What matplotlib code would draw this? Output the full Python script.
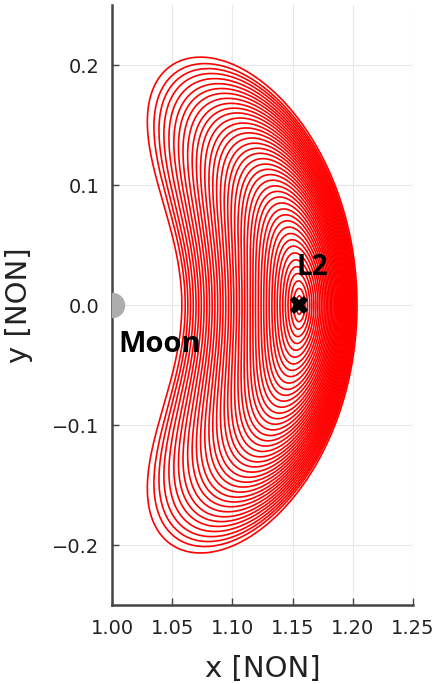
import math
import numpy as np
import matplotlib
matplotlib.use("Agg")
import matplotlib.pyplot as plt

# Earth-Moon CR3BP mass ratio
mu = 0.01215

# left x-crossing of each L2 Lyapunov orbit (inner -> outer)
x_left = [1.1530, 1.1508, 1.1485, 1.1462, 1.1440, 1.1418, 1.1395, 1.1372,
          1.1350, 1.1328, 1.1305, 1.1282, 1.1260, 1.1238, 1.1215, 1.1192,
          1.1170, 1.1148, 1.1125, 1.1102, 1.1080, 1.1058, 1.1035, 1.1012,
          1.0990, 1.0968, 1.0945, 1.0922, 1.0900, 1.0878, 1.0855, 1.0832,
          1.0810, 1.0788, 1.0765, 1.0742, 1.0720, 1.0698, 1.0675, 1.0652,
          1.0630, 1.0608, 1.0580]

moon_xy = (1.0, 0.0)
xticks = [1.00, 1.05, 1.10, 1.15, 1.20, 1.25]
yticks = [-0.2, -0.1, 0.0, 0.1, 0.2]


def acc(x, y, vx, vy):
    r1 = ((x + mu) ** 2 + y * y) ** 1.5
    r2 = ((x - 1 + mu) ** 2 + y * y) ** 1.5
    ax = 2 * vy + x - (1 - mu) * (x + mu) / r1 - mu * (x - 1 + mu) / r2
    ay = -2 * vx + y - (1 - mu) * y / r1 - mu * y / r2
    return vx, vy, ax, ay


def rk4(s, h):
    k1 = acc(*s)
    k2 = acc(*[s[i] + 0.5 * h * k1[i] for i in range(4)])
    k3 = acc(*[s[i] + 0.5 * h * k2[i] for i in range(4)])
    k4 = acc(*[s[i] + h * k3[i] for i in range(4)])
    return tuple(s[i] + h / 6 * (k1[i] + 2 * k2[i] + 2 * k3[i] + k4[i]) for i in range(4))


def half_orbit(x0, vy0, h=0.002, keep=False):
    s = (x0, 0.0, 0.0, vy0)
    pts = [s]
    n = 0
    while True:
        s1 = rk4(s, h)
        n += 1
        if n > 5 and s1[1] < 0:
            # land on y = 0
            for _ in range(3):
                dt = -s[1] / s[3]
                s = rk4(s, dt) if abs(dt) > 1e-14 else s
            pts[-1] = s
            break
        s = s1
        pts.append(s)
        if n > 20000:
            break
    if keep:
        return np.array(pts)
    return s[2]


def solve(x0, vy):
    v0, v1 = vy, vy * 1.001
    f0, f1 = half_orbit(x0, v0), half_orbit(x0, v1)
    for _ in range(30):
        if abs(f1) < 1e-11 or f1 == f0:
            break
        v0, v1 = v1, v1 - f1 * (v1 - v0) / (f1 - f0)
        f0, f1 = f1, half_orbit(x0, v1)
    return v1


# L2 location
xL2 = 1.15
for _ in range(50):
    g = xL2 - (1 - mu) / (xL2 + mu) ** 2 - mu / (xL2 - 1 + mu) ** 2
    dg = 1 + 2 * (1 - mu) / (xL2 + mu) ** 3 + 2 * mu / (xL2 - 1 + mu) ** 3
    xL2 -= g / dg

# linear guess for the first orbit
c2 = (1 - mu) / abs(xL2 + mu) ** 3 + mu / abs(xL2 - 1 + mu) ** 3
w = math.sqrt((2 - c2 + math.sqrt(9 * c2 ** 2 - 8 * c2)) / 2)
kap = (w ** 2 + 1 + 2 * c2) / (2 * w)

orbits = []
vys = []
for i, x0 in enumerate(x_left):
    if i == 0:
        guess = kap * w * (xL2 - x0)
    elif i == 1:
        guess = vys[0] * (xL2 - x0) / (xL2 - x_left[0])
    else:
        guess = vys[-1] + (vys[-1] - vys[-2]) * (x0 - x_left[i - 1]) / (x_left[i - 1] - x_left[i - 2])
    vy = solve(x0, guess)
    vys.append(vy)
    p = half_orbit(x0, vy, keep=True)
    # mirror the upper half, closed loop
    xs = np.concatenate([p[:, 0], p[-2::-1, 0]])
    ys = np.concatenate([p[:, 1], -p[-2::-1, 1]])
    ys[0] = ys[-1] = 0.0
    orbits.append((xs, ys))

fig = plt.figure(figsize=(4.41, 6.84), dpi=100)
ax = fig.add_axes([0.254, 0.1155, 0.6825, 0.877])

for xs, ys in orbits:
    ax.plot(xs, ys, color="red", lw=1.2, solid_capstyle="butt", solid_joinstyle="round")

ax.scatter([moon_xy[0]], [moon_xy[1]], s=300, color="#adadad", zorder=3, clip_on=True)
ax.plot([xL2], [0], marker="X", ms=13, color="black", mew=0, zorder=4)
ax.text(1.1667, 0.0313, "L2", fontsize=20, fontweight="bold", family="Open Sans",
        ha="center", va="center", zorder=5)
ax.text(1.005, -0.0325, "Moon", fontsize=21, fontweight="bold", family="Open Sans",
        ha="left", va="center", zorder=5)

ax.set_xlim(1.0, 1.25)
ax.set_ylim(-0.25, 0.25)
ax.set_xticks(xticks)
ax.set_yticks(yticks)
ax.set_xticklabels(["%.2f" % t for t in xticks])
ax.set_yticklabels([("%.1f" % t).replace("-", "\u2212") for t in yticks])
ax.grid(True, color="#e8e8e8", lw=0.8)
ax.set_axisbelow(True)
for side in ["top", "right"]:
    ax.spines[side].set_visible(False)
for side in ["left", "bottom"]:
    ax.spines[side].set_linewidth(1.8)
    ax.spines[side].set_color("#444444")
ax.tick_params(direction="in", length=5, width=1, colors="#444444", labelsize=14,
               labelcolor="#222222")
ax.tick_params(axis="x", pad=10)
ax.tick_params(axis="y", pad=9)
ax.set_xlabel("x [NON]", fontsize=21, color="#222222", labelpad=12)
ax.set_ylabel("y [NON]", fontsize=21, color="#222222", labelpad=14)

fig.savefig("out.png", dpi=100)
